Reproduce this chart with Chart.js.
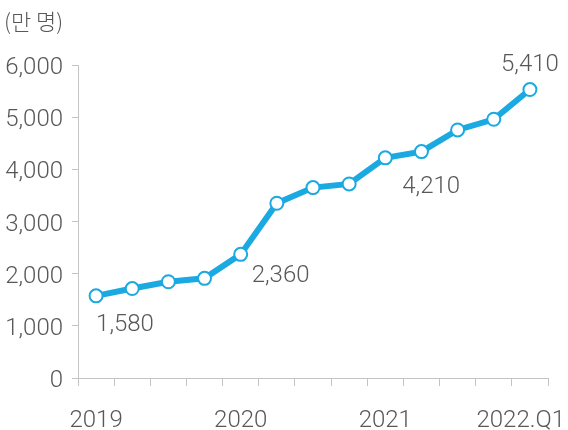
<!DOCTYPE html>
<html>
<head>
<meta charset="utf-8">
<script src="https://cdn.jsdelivr.net/npm/chart.js@4/dist/chart.umd.min.js"></script>
<style>
  html, body { margin: 0; padding: 0; background: #ffffff; }
  #c { display: block; }
</style>
</head>
<body>
<canvas id="c" width="568" height="430"></canvas>
<script>
// ---- data ----
const quarters = ['2019 Q1','2019 Q2','2019 Q3','2019 Q4','2020 Q1','2020 Q2','2020 Q3','2020 Q4','2021 Q1','2021 Q2','2021 Q3','2021 Q4','2022 Q1'];
const axisLabels = ['2019','','','','2020','','','','2021','','','','2022.Q1'];
const users = [1575, 1715, 1845, 1910, 2370, 3350, 3650, 3720, 4220, 4340, 4755, 4960, 5530];
const calloutIndex = [0, 4, 8, 12];
const calloutText = ['1,580', '2,360', '4,210', '5,410'];
const yTicks = [0, 1000, 2000, 3000, 4000, 5000, 6000];
const unitLabel = '(만 명)';

// ---- styling ----
const BLUE = '#1ba9e1';
const TEXT = '#585858';
const AXIS = '#c4c4c4';
const NUM_FONT = '300 24px Roboto, "Liberation Sans", sans-serif';
// placement of each callout relative to its point: [dx, dy, align]
const calloutPlacement = [[0, 35, 'left'], [11, 28, 'left'], [17, 35, 'left'], [0, -19, 'center']];

const textLayer = {
  id: 'textLayer',
  afterDraw(chart) {
    const ctx = chart.ctx;
    const x = chart.scales.x;
    const meta = chart.getDatasetMeta(0);
    ctx.save();
    ctx.fillStyle = TEXT;
    // unit label
    ctx.font = '300 22px "Noto Sans CJK KR", sans-serif';
    ctx.textAlign = 'left';
    ctx.textBaseline = 'alphabetic';
    ctx.fillText(unitLabel, 4, 30);
    // x axis labels
    ctx.font = NUM_FONT;
    ctx.textAlign = 'center';
    axisLabels.forEach((lab, i) => {
      if (!lab) return;
      let px = x.getPixelForValue(i);
      const w = ctx.measureText(lab).width;
      if (px + w / 2 > chart.width - 3) px = chart.width - 3 - w / 2;
      ctx.fillText(lab, px, 427);
    });
    // callouts
    calloutIndex.forEach((idx, k) => {
      const pt = meta.data[idx];
      const [dx, dy, al] = calloutPlacement[k];
      ctx.textAlign = al;
      ctx.fillText(calloutText[k], pt.x + dx, pt.y + dy);
    });
    ctx.restore();
  }
};

new Chart(document.getElementById('c'), {
  type: 'line',
  data: {
    labels: quarters,
    datasets: [{
      data: users,
      borderColor: BLUE,
      borderWidth: 6,
      pointRadius: 6.5,
      pointBorderWidth: 2,
      pointBackgroundColor: '#ffffff',
      pointBorderColor: BLUE,
      tension: 0,
      clip: false
    }]
  },
  options: {
    responsive: false,
    devicePixelRatio: 1,
    animation: false,
    layout: { padding: { top: 65, right: 20, left: 0, bottom: 0 } },
    plugins: { legend: { display: false }, tooltip: { enabled: false } },
    scales: {
      x: {
        type: 'category',
        offset: true,
        grid: { display: true, offset: true, drawOnChartArea: false, drawTicks: true, tickLength: 8, color: AXIS, lineWidth: 1 },
        border: { display: true, color: AXIS, width: 1 },
        ticks: { display: false },
        afterFit(s) { s.height = 52; }
      },
      y: {
        min: 0, max: 6000,
        afterBuildTicks(s) { s.ticks = yTicks.map(v => ({ value: v })); },
        grid: { display: true, drawOnChartArea: false, drawTicks: true, tickLength: 6, color: AXIS, lineWidth: 1 },
        border: { display: true, color: AXIS, width: 1 },
        ticks: {
          color: TEXT,
          padding: 9,
          labelOffset: 3,
          font: { family: 'Roboto, "Liberation Sans", sans-serif', size: 24, weight: '300' },
          callback: v => Number(v).toLocaleString('en-US')
        },
        afterFit(s) { s.width = 78; }
      }
    }
  },
  plugins: [textLayer]
});
</script>
</body>
</html>
